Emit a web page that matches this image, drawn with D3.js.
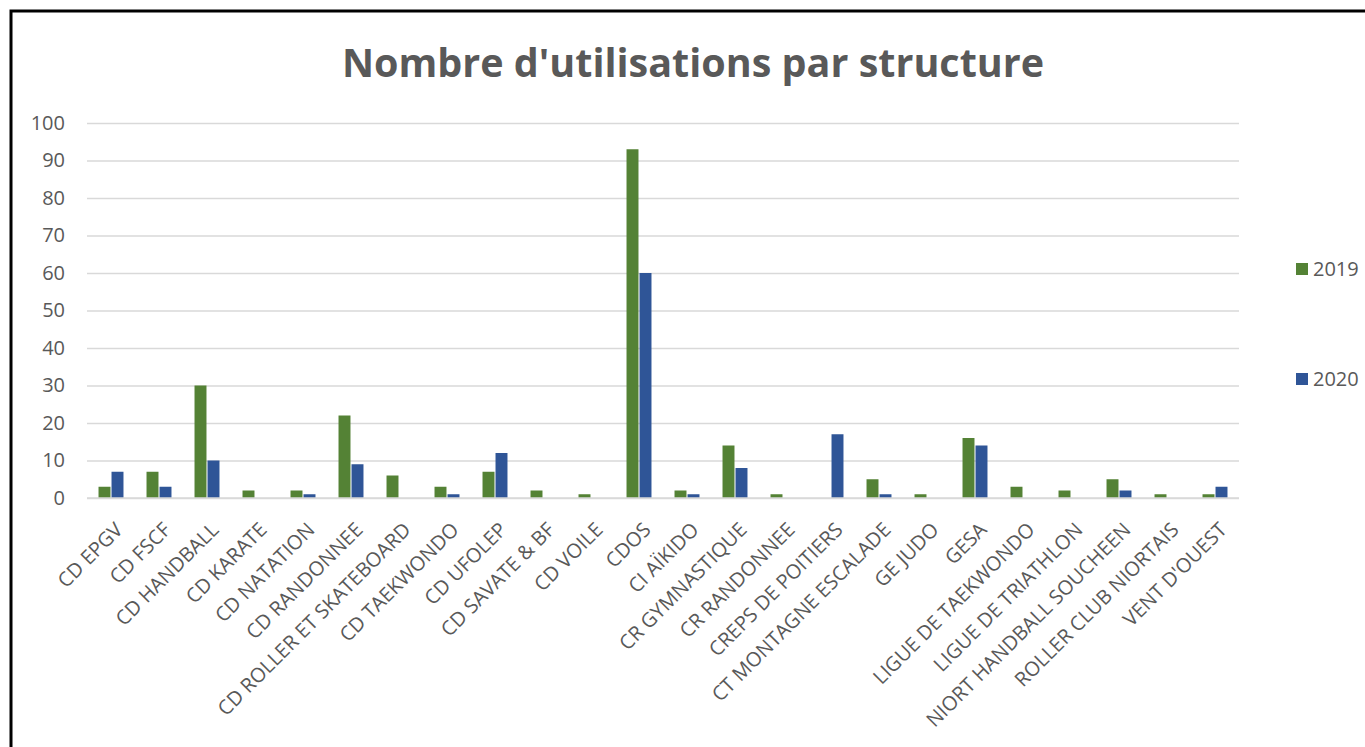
<!DOCTYPE html>
<html>
<head>
<meta charset="utf-8">
<script src="https://cdn.jsdelivr.net/npm/d3@7"></script>
<style>
  body { margin: 0; background: #fff; }
  text { font-family: "Open Sans", sans-serif; fill: #595959; }
</style>
</head>
<body>
<div id="chart"></div>
<script>
// Data
const categories = ["CD EPGV", "CD FSCF", "CD HANDBALL", "CD KARATE", "CD NATATION", "CD RANDONNEE",
  "CD ROLLER ET SKATEBOARD", "CD TAEKWONDO", "CD UFOLEP", "CD SAVATE & BF", "CD VOILE", "CDOS",
  "CI AÏKIDO", "CR GYMNASTIQUE", "CR RANDONNEE", "CREPS DE POITIERS", "CT MONTAGNE ESCALADE",
  "GE JUDO", "GESA", "LIGUE DE TAEKWONDO", "LIGUE DE TRIATHLON", "NIORT HANDBALL SOUCHEEN",
  "ROLLER CLUB NIORTAIS", "VENT D'OUEST"];
const values2019 = [3, 7, 30, 2, 2, 22, 6, 3, 7, 2, 1, 93, 2, 14, 1, 0, 5, 1, 16, 3, 2, 5, 1, 1];
const values2020 = [7, 3, 10, 0, 1, 9, 0, 1, 12, 0, 0, 60, 1, 8, 0, 17, 1, 0, 14, 0, 0, 2, 0, 3];
const seriesNames = ["2019", "2020"];
const yTicks = [0, 10, 20, 30, 40, 50, 60, 70, 80, 90, 100];
const colors = ["#548235", "#2f5597"];

const W = 1365, H = 747;
const plot = {left: 87, right: 1239, top: 123, bottom: 498};

const svg = d3.select("#chart").append("svg")
  .attr("width", W).attr("height", H);

// Outer frame
svg.append("rect")
  .attr("x", 11).attr("y", 11)
  .attr("width", W).attr("height", H)
  .attr("fill", "none").attr("stroke", "#000").attr("stroke-width", 3);

// Title
svg.append("text")
  .attr("x", 693).attr("y", 77)
  .attr("text-anchor", "middle")
  .style("font-size", "39.5px").style("font-weight", "bold")
  .text("Nombre d'utilisations par structure");

// Scales
const x = d3.scaleBand()
  .domain(categories)
  .range([plot.left, plot.right])
  .paddingInner(0.48)
  .paddingOuter(0.24);

const x1 = d3.scaleBand()
  .domain(seriesNames)
  .range([0, x.bandwidth()])
  .paddingInner(0.08);

const y = d3.scaleLinear()
  .domain([0, 100])
  .range([plot.bottom, plot.top]);

// Y axis with gridlines
const yAxis = svg.append("g")
  .attr("transform", `translate(${plot.left},0)`)
  .call(d3.axisLeft(y).tickValues(yTicks).tickSize(-(plot.right - plot.left)).tickPadding(22));
yAxis.select(".domain").remove();
yAxis.selectAll(".tick line").attr("stroke", "#d9d9d9").attr("stroke-width", 1.3);
yAxis.selectAll(".tick text").style("font-size", "20px").attr("fill", "#595959");

// Bars
const rows = categories.map((c, i) => ({cat: c, vals: [values2019[i], values2020[i]]}));
const groups = svg.append("g").selectAll("g")
  .data(rows)
  .join("g")
  .attr("transform", d => `translate(${x(d.cat)},0)`);

groups.selectAll("rect")
  .data(d => d.vals.map((v, k) => ({key: seriesNames[k], v: v, k: k})))
  .join("rect")
  .attr("x", d => x1(d.key))
  .attr("y", d => y(d.v))
  .attr("width", x1.bandwidth())
  .attr("height", d => plot.bottom - y(d.v))
  .attr("fill", d => colors[d.k]);

// Axis line at 0
svg.append("line")
  .attr("x1", plot.left).attr("x2", plot.right)
  .attr("y1", plot.bottom).attr("y2", plot.bottom)
  .attr("stroke", "#d9d9d9").attr("stroke-width", 1.5);

// X axis labels
const xAxis = svg.append("g")
  .attr("transform", `translate(0,${plot.bottom})`)
  .call(d3.axisBottom(x).tickSize(0).tickPadding(0));
xAxis.select(".domain").remove();
xAxis.selectAll(".tick text")
  .attr("dy", null).attr("y", 0)
  .attr("transform", "translate(13,33)rotate(-45)")
  .style("text-anchor", "end")
  .style("font-size", "20px")
  .attr("fill", "#595959");

// Legend
const legend = svg.append("g").selectAll("g")
  .data(seriesNames)
  .join("g")
  .attr("transform", (d, i) => `translate(1296,${263 + i * 110})`);
legend.append("rect")
  .attr("width", 12).attr("height", 12)
  .attr("fill", (d, i) => colors[i]);
legend.append("text")
  .attr("x", 17).attr("y", 13)
  .style("font-size", "20px")
  .text(d => d);
</script>
</body>
</html>
